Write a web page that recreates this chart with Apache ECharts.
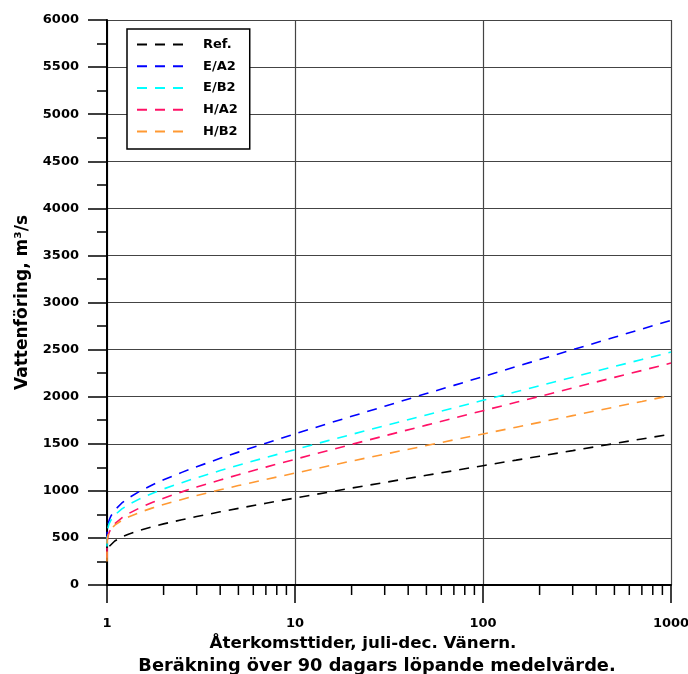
<!DOCTYPE html>
<html>
<head>
<meta charset="utf-8">
<script src="https://cdn.jsdelivr.net/npm/echarts@6/dist/echarts.min.js"></script>
<style>
html,body{margin:0;padding:0;background:#fff;overflow:hidden;}
#chart{width:688px;height:674px;}
</style>
</head>
<body>
<div id="chart"></div>
<script>
// Return periods (years)
var returnPeriods = [1.0001, 1.0005, 1.002, 1.005, 1.01, 1.02, 1.03, 1.05, 1.1, 1.2, 1.3, 1.5, 1.75, 2, 2.5, 3, 4, 5, 7, 10, 15, 20, 30, 50, 70, 100, 150, 200, 300, 500, 700, 1000];
// Discharge values (m3/s) per scenario
var refValues  = [null, null, null, null, null, null, 411, 432, 467, 510, 539, 581, 619, 649, 693, 727, 777, 814, 868, 924, 985, 1029, 1089, 1165, 1214, 1267, 1326, 1368, 1427, 1502, 1551, 1603];
var ea2Values  = [460, 497, 549, 590, 627, 667, 695, 734, 795, 871, 923, 998, 1065, 1117, 1196, 1256, 1345, 1411, 1506, 1605, 1715, 1791, 1898, 2033, 2120, 2213, 2319, 2394, 2499, 2631, 2718, 2811];
var eb2Values  = [410, 487, 532, 567, 598, 634, 657, 690, 743, 808, 853, 917, 975, 1020, 1087, 1139, 1215, 1272, 1354, 1438, 1533, 1599, 1691, 1806, 1881, 1961, 2052, 2116, 2206, 2320, 2395, 2474];
var ha2Values  = [290, 397, 441, 476, 507, 542, 565, 598, 650, 714, 758, 821, 878, 922, 989, 1040, 1115, 1171, 1252, 1335, 1428, 1493, 1584, 1698, 1772, 1851, 1940, 2003, 2092, 2205, 2278, 2357];
var hb2Values  = [250, 431, 467, 495, 520, 548, 566, 593, 635, 687, 722, 773, 819, 855, 909, 950, 1011, 1056, 1121, 1188, 1263, 1316, 1389, 1481, 1541, 1604, 1676, 1727, 1799, 1890, 1949, 2013];
var seriesNames = ['Ref.', 'E/A2', 'E/B2', 'H/A2', 'H/B2'];
var seriesColors = ['#000000', '#0000ff', '#00ffff', '#ff1166', '#ff9933'];
// Minor tick positions on the log x axis
var minorTickValues = [2,3,4,5,6,7,8,9,20,30,40,50,60,70,80,90,200,300,400,500,600,700,800,900];

var FONT = 'DejaVu Sans';
function pairs(vals) {
  var out = [];
  for (var i = 0; i < returnPeriods.length; i++) {
    if (vals[i] !== null) out.push([returnPeriods[i], vals[i]]);
  }
  return out;
}
var allValues = [refValues, ea2Values, eb2Values, ha2Values, hb2Values];
var series = seriesNames.map(function (name, i) {
  return {
    name: name,
    type: 'line',
    data: pairs(allValues[i]),
    symbol: 'none',
    smooth: false,
    z: 5,
    lineStyle: { color: seriesColors[i], width: 1.6, type: [10, 8] },
    itemStyle: { color: seriesColors[i] }
  };
});
series.push({
  type: 'custom',
  name: 'minorTicks',
  silent: true,
  clip: false,
  z: 6,
  data: minorTickValues.map(function (v) { return [v, 0]; }),
  renderItem: function (params, api) {
    var p = api.coord([api.value(0), api.value(1)]);
    return {
      type: 'line',
      shape: { x1: p[0], y1: p[1], x2: p[0], y2: p[1] + 10 },
      style: { stroke: '#000', lineWidth: 1.5 }
    };
  }
});

var chart = echarts.init(document.getElementById('chart'), null, { renderer: 'canvas', width: 688, height: 674 });
chart.setOption({
  animation: false,
  backgroundColor: '#fff',
  grid: { left: 107, right: 17, top: 20, bottom: 89, containLabel: false, outerBoundsMode: 'none' },
  legend: {
    data: seriesNames,
    orient: 'vertical',
    left: 127,
    top: 29,
    padding: [9, 12, 11, 9],
    itemWidth: 48,
    itemHeight: 14,
    itemGap: 8.75,
    borderColor: '#000',
    borderWidth: 1.5,
    backgroundColor: '#fff',
    itemStyle: { opacity: 0 },
    textStyle: { fontFamily: FONT, fontWeight: 'bold', fontSize: 13, color: '#000', padding: [0, 0, 0, 13] }
  },
  xAxis: {
    type: 'log',
    logBase: 10,
    min: 1,
    max: 1000,
    name: '{a|Återkomsttider, juli-dec. Vänern.}\n{b|Beräkning över 90 dagars löpande medelvärde.}',
    nameLocation: 'middle',
    nameGap: 46,
    nameTextStyle: {
      fontFamily: FONT, fontWeight: 'bold', color: '#000',
      rich: {
        a: { fontFamily: FONT, fontWeight: 'bold', fontSize: 16.7, lineHeight: 23, color: '#000', padding: [0, 52, 0, 0] },
        b: { fontFamily: FONT, fontWeight: 'bold', fontSize: 17.8, lineHeight: 23, color: '#000', padding: [0, 24, 0, 0] }
      }
    },
    axisLine: { show: true, lineStyle: { color: '#000', width: 2 } },
    axisTick: { show: true, inside: false, length: 18, lineStyle: { color: '#000', width: 1.5 } },
    minorTick: { show: false },
    axisLabel: { margin: 32, fontFamily: FONT, fontWeight: 'bold', fontSize: 13, color: '#000', formatter: function (v) { return String(Math.round(v)); } },
    splitLine: { show: true, lineStyle: { color: '#444', width: 1.2 } }
  },
  yAxis: {
    type: 'value',
    min: 0,
    max: 6000,
    interval: 500,
    name: 'Vattenföring, m³/s',
    nameLocation: 'middle',
    nameGap: 76,
    nameRotate: 90,
    nameTextStyle: { fontFamily: FONT, fontWeight: 'bold', fontSize: 17, color: '#000' },
    axisLine: { show: true, lineStyle: { color: '#000', width: 2 } },
    axisTick: { show: true, inside: false, length: 19, lineStyle: { color: '#000', width: 1.5 } },
    minorTick: { show: true, splitNumber: 2, length: 10, lineStyle: { color: '#000', width: 1.5 } },
    axisLabel: { margin: 28, fontFamily: FONT, fontWeight: 'bold', fontSize: 13, color: '#000', formatter: function (v) { return String(v); } },
    splitLine: { show: true, lineStyle: { color: '#444', width: 1.2 } }
  },
  series: series
});
</script>
</body>
</html>
